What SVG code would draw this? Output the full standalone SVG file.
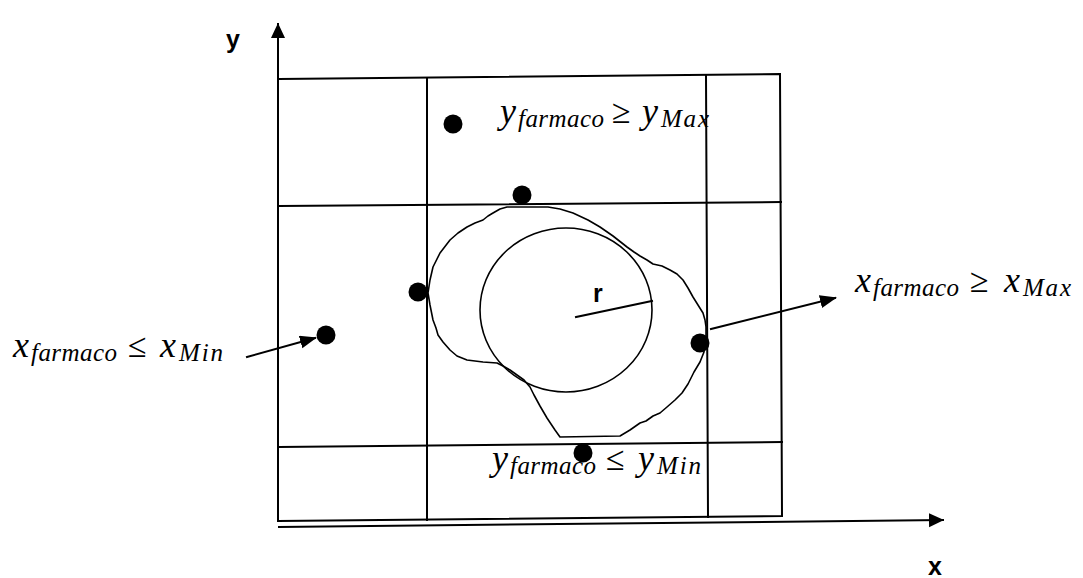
<svg xmlns="http://www.w3.org/2000/svg" width="1083" height="578" viewBox="0 0 1083 578">
<style>
.ln{stroke:#000;stroke-width:2;fill:none;stroke-linecap:square}
.thin{stroke:#000;stroke-width:1.6;fill:none;stroke-linejoin:round}
.dot{fill:#000}
.m{font-family:"Liberation Serif","Times New Roman",serif;font-style:italic;font-size:36px;fill:#000}
.s{font-size:25px}
.rel{font-style:normal;font-size:34px}
.lab{font-family:"Liberation Sans",Arial,sans-serif;font-weight:bold;font-size:25px;fill:#000}
</style>
<defs>
<marker id="ah" markerUnits="userSpaceOnUse" markerWidth="18" markerHeight="14" refX="15" refY="6.5" orient="auto">
<path d="M0,0 L17,6.5 L0,13 Z" fill="#000"/>
</marker>
<marker id="axh" markerUnits="userSpaceOnUse" markerWidth="18" markerHeight="16" refX="14" refY="7" orient="auto">
<path d="M0,0 L15,7 L0,14 Z" fill="#000"/>
</marker>
</defs>
<rect width="1083" height="578" fill="#fff"/>

<g id="axes">
<path class="ln" d="M278,521 L278,24" marker-end="url(#axh)"/>
<path class="ln" d="M279,527 L943,520" marker-end="url(#axh)"/>
<text class="lab" x="226" y="48">y</text>
<text class="lab" x="928" y="575">x</text>
</g>

<g id="grid">
<path class="ln" d="M279,79 L780,74 L782,516 L279,521"/>
<path class="ln" d="M279,206 L781,202"/>
<path class="ln" d="M279,447 L782,442"/>
<path class="ln" d="M427,78 L427,520"/>
<path class="ln" d="M706,75 L708,517"/>
</g>

<g id="drug-shape">
<path class="thin" d="M507,207 L548,207 L560,209 L573,213 L588,220 L600,227 L613,236 L627,247 L634,252 L640,256 L647,260 L653,264 L662,266 L670,270 L677,274 L683,280 L688,288 L693,297 L698,305 L703,313 L705,320 L706,327 L706,335 L705,343 L704,352 L700,362 L694,372 L688,384 L682,393 L675,400 L667,407 L660,413 L653,416 L646,421 L640,423 L630,430 L620,436 L560,437 L555,430 L547,418 L540,406 L534,395 L530,387 L524,380 L517,375 L510,370 L503,366 L497,363 L483,362 L467,360 L457,356 L450,350 L443,342 L438,335 L436,328 L433,320 L430,305 L428,293 L430,280 L433,267 L440,253 L450,240 L458,233 L467,227 L475,223 L483,220 L488,216 L493,213 L500,209 Z"/>
</g>

<g id="circle">
<ellipse class="thin" cx="566" cy="310" rx="86" ry="82"/>
<line class="ln" x1="576" y1="317" x2="652" y2="301"/>
<text class="lab" x="593" y="302">r</text>
</g>

<g id="points">
<circle class="dot" cx="453" cy="124" r="9.5"/>
<circle class="dot" cx="522" cy="195" r="9.5"/>
<circle class="dot" cx="418" cy="292" r="9.5"/>
<circle class="dot" cx="326" cy="335" r="9.5"/>
<circle class="dot" cx="700" cy="343" r="9.5"/>
<circle class="dot" cx="583" cy="453" r="9.5"/>
</g>

<g id="connectors">
<path class="ln" d="M247,357 L315,338" marker-end="url(#ah)"/>
<path class="ln" d="M711,329 L835,298" marker-end="url(#ah)"/>
</g>

<g id="label-ymax">
<text class="m" y="123"><tspan x="500">y</tspan><tspan class="s" x="518" y="127" textLength="86">farmaco</tspan><tspan class="rel" x="612" y="123">≥</tspan><tspan x="642" y="123">y</tspan><tspan class="s" x="661" y="127" textLength="48">Max</tspan></text>
</g>
<g id="label-xmin">
<text class="m" y="357"><tspan x="13">x</tspan><tspan class="s" x="31" y="361" textLength="86">farmaco</tspan><tspan class="rel" x="128" y="357">≤</tspan><tspan x="160" y="357">x</tspan><tspan class="s" x="179" y="361" textLength="44">Min</tspan></text>
</g>
<g id="label-xmax">
<text class="m" y="292"><tspan x="855">x</tspan><tspan class="s" x="873" y="296" textLength="86">farmaco</tspan><tspan class="rel" x="970" y="292">≥</tspan><tspan x="1004" y="292">x</tspan><tspan class="s" x="1023" y="296" textLength="48">Max</tspan></text>
</g>
<g id="label-ymin">
<text class="m" y="470"><tspan x="492">y</tspan><tspan class="s" x="510" y="474" textLength="86">farmaco</tspan><tspan class="rel" x="606" y="470">≤</tspan><tspan x="638" y="470">y</tspan><tspan class="s" x="657" y="474" textLength="44">Min</tspan></text>
</g>
</svg>
